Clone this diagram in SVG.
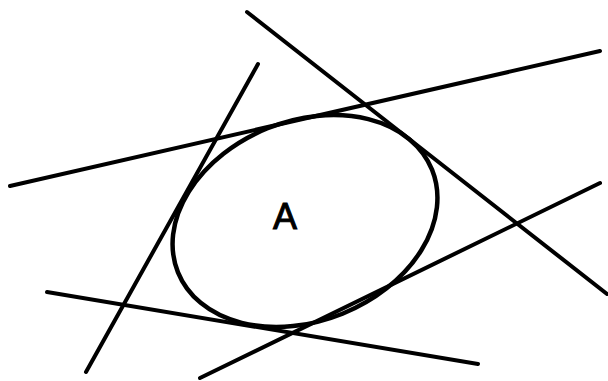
<svg xmlns="http://www.w3.org/2000/svg" width="608" height="381" viewBox="0 0 608 381">
<style>
.ln{stroke:#000;stroke-width:4;stroke-linecap:round;fill:none}
.el{stroke:#000;stroke-width:4.5;fill:none}
.lbl{font-family:"Liberation Sans",Arial,sans-serif;font-size:36px;fill:#000;stroke:#000;stroke-width:1;text-anchor:middle}
</style>
<rect width="608" height="381" fill="#fff"/>
<g id="connectors">
<line class="ln" x1="10" y1="186" x2="600" y2="51"/>
<line class="ln" x1="247" y1="12" x2="607" y2="294"/>
<line class="ln" x1="258" y1="64" x2="86" y2="372"/>
<line class="ln" x1="47" y1="292" x2="478" y2="364"/>
<line class="ln" x1="200" y1="378" x2="600" y2="183"/>
</g>
<g id="nodeA">
<ellipse class="el" cx="305" cy="221" rx="137" ry="100" transform="rotate(-22 305 221)"/>
<text class="lbl" x="285" y="229">A</text>
</g>
</svg>
